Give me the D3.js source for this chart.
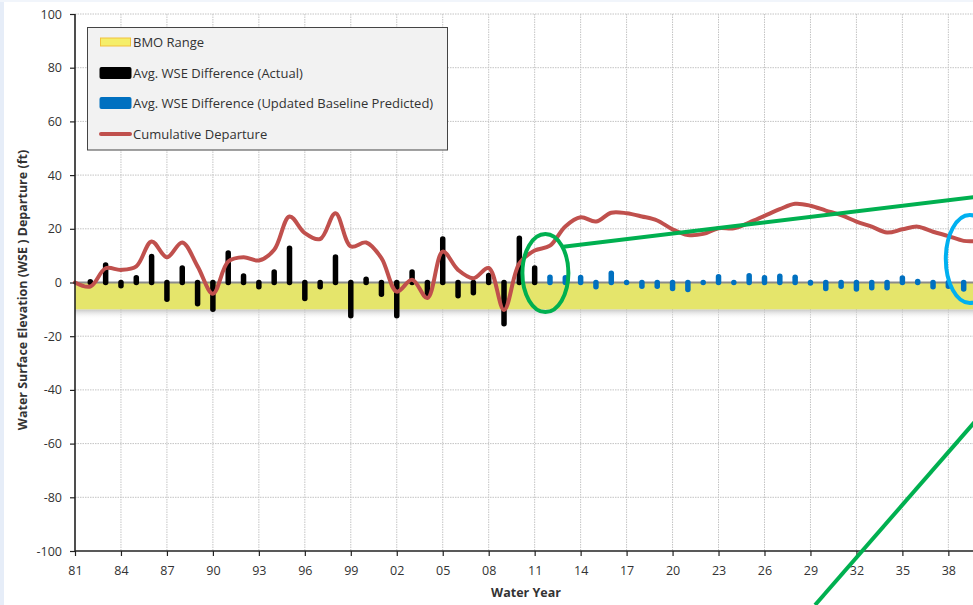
<!DOCTYPE html>
<html>
<head>
<meta charset="utf-8">
<script src="https://cdn.jsdelivr.net/npm/d3@7"></script>
<style>
  html, body { margin: 0; padding: 0; background: #ffffff; }
  svg { display: block; }
  text { font-family: "Open Sans", "Noto Sans", sans-serif; fill: #333; }
</style>
</head>
<body>
<svg id="chart" width="973" height="605"></svg>
<script>
// ---------------- DATA ----------------
const actualYears = d3.range(1982, 2012);
const actualValues = [0.3, 6.5, -1.2, 1.8, 9.7, -6.2, 5.4, -7.9, -10, 11,
  2.4, -1.6, 3.9, 12.8, -6, -1.6, 9.5, -12.4, 1.2, -4.4,
  -12.4, 3.9, -4.7, 16.2, -4.9, -3.8, 2.6, -15.4, 16.5, 5.4];

const predictedYears = d3.range(2012, 2040);
const predictedValues = [2.0, 1.8, 1.9, -1.6, 3.4, 0, -1.4, -1.4, -2.2, -2.6,
  0, 2.1, 0, 2.5, 1.8, 2.3, 2.0, -0.2, -2.2, -1.4,
  -2.4, -2.0, -2.0, 1.7, 0.4, -1.6, -1.4, -2.4];

const cumulativeYears = d3.range(1981, 2041);
const cumulativeValues = [0, -1.5, 5.3, 4.7, 6, 15.3, 9.4, 14.9, 6, -4.2,
  7.8, 9.4, 8.2, 12.2, 24.6, 18.4, 16.2, 25.8, 13.4, 14.9,
  9.1, -3.4, 1, -5.8, 11.5, 4.7, 1.6, 5.4, -10.2, 7.1,
  11.9, 13.7, 20.9, 24.3, 22.7, 26, 25.8, 24.6, 23.1, 19.8,
  17.7, 18.1, 20.2, 20.2, 22.3, 24.8, 27.3, 29.3, 28.6, 26.8,
  25.1, 22.7, 20.8, 18.6, 19.8, 20.8, 18.9, 17.3, 15.5, 15.5];

const bmoRange = [-10, 0];

const xTickYears = d3.range(1981, 2040, 3);
const xTickLabels = ["81","84","87","90","93","96","99","02","05","08",
  "11","14","17","20","23","26","29","32","35","38"];
const yTicks = d3.range(-100, 101, 20);

const legendLabels = ["BMO Range", "Avg. WSE Difference (Actual)",
  "Avg. WSE Difference (Updated Baseline Predicted)", "Cumulative Departure"];

// ---------------- SETUP ----------------
const svg = d3.select("#chart");
const W = 973, H = 605;
const mLeft = 75, mTop = 14, mBottom = 551, mRight = 979;

const x = d3.scaleLinear().domain([1981, 2040]).range([mLeft, mRight]);
const y = d3.scaleLinear().domain([-100, 100]).range([mBottom, mTop]);

// Page frame strip (screenshot look)
svg.append("rect").attr("x", 0).attr("y", 0).attr("width", W).attr("height", H).attr("fill", "#ffffff");
svg.append("rect").attr("x", 0).attr("y", 0).attr("width", 4).attr("height", H).attr("fill", "#e6edf8");
svg.append("rect").attr("x", 0).attr("y", 0).attr("width", W).attr("height", 2).attr("fill", "#f1f5fb");

const defs = svg.append("defs");
const grad = defs.append("linearGradient").attr("id", "shadow").attr("x1", 0).attr("x2", 0).attr("y1", 0).attr("y2", 1);
grad.append("stop").attr("offset", "0%").attr("stop-color", "#b8b8b8").attr("stop-opacity", 0.8);
grad.append("stop").attr("offset", "100%").attr("stop-color", "#ffffff").attr("stop-opacity", 0);

// Gridlines
const grid = svg.append("g");
grid.selectAll("line.v").data(xTickYears.slice(1)).join("line")
  .attr("x1", d => x(d)).attr("x2", d => x(d))
  .attr("y1", mTop).attr("y2", mBottom)
  .attr("stroke", "#c4c4c4").attr("stroke-width", 1).attr("stroke-dasharray", "1.5,1");
grid.selectAll("line.h").data(yTicks.filter(d => d !== -100 && d !== 0)).join("line")
  .attr("x1", mLeft).attr("x2", mRight)
  .attr("y1", d => y(d)).attr("y2", d => y(d))
  .attr("stroke", "#c4c4c4").attr("stroke-width", 1).attr("stroke-dasharray", "1.5,1");

// BMO band + shadow
svg.append("rect")
  .attr("x", mLeft).attr("width", mRight - mLeft)
  .attr("y", y(bmoRange[0])).attr("height", 10)
  .attr("fill", "url(#shadow)");
svg.append("rect")
  .attr("x", mLeft).attr("width", mRight - mLeft)
  .attr("y", y(bmoRange[1])).attr("height", y(bmoRange[0]) - y(bmoRange[1]))
  .attr("fill", "#e5e56b");

// Zero line
svg.append("line")
  .attr("x1", mLeft).attr("x2", mRight).attr("y1", y(0)).attr("y2", y(0))
  .attr("stroke", "#8a8a8a").attr("stroke-width", 2);

// Bars (rounded thin bars)
svg.append("g").selectAll("line").data(actualYears.map((d, i) => [d, actualValues[i]])).join("line")
  .attr("x1", d => x(d[0])).attr("x2", d => x(d[0]))
  .attr("y1", y(0)).attr("y2", d => y(d[1]))
  .attr("stroke", "#000000").attr("stroke-width", 5.5).attr("stroke-linecap", "round");
svg.append("g").selectAll("line").data(predictedYears.map((d, i) => [d, predictedValues[i]])).join("line")
  .attr("x1", d => x(d[0])).attr("x2", d => x(d[0]))
  .attr("y1", y(0)).attr("y2", d => y(d[1]))
  .attr("stroke", "#0070c0").attr("stroke-width", 5.5).attr("stroke-linecap", "round");

// Cumulative line
const lineGen = d3.line().x(d => x(d[0])).y(d => y(d[1])).curve(d3.curveCatmullRom.alpha(0.5));
svg.append("path")
  .datum(cumulativeYears.map((d, i) => [d, cumulativeValues[i]]))
  .attr("d", lineGen)
  .attr("fill", "none").attr("stroke", "#c0504d").attr("stroke-width", 4)
  .attr("stroke-linejoin", "round").attr("stroke-linecap", "round");

// Axes
const yAxis = svg.append("g").attr("transform", `translate(${mLeft},0)`)
  .call(d3.axisLeft(y).tickValues(yTicks).tickSize(5).tickPadding(8).tickFormat(d => String(d)));
yAxis.select(".domain").remove();
yAxis.selectAll(".tick line").attr("stroke", "#222").attr("stroke-width", 1.2);
yAxis.selectAll(".tick text").attr("font-size", 12.5).attr("fill", "#333")
  .style("font-family", "'Open Sans', sans-serif");

const xAxis = svg.append("g").attr("transform", `translate(0,${mBottom})`)
  .call(d3.axisBottom(x).tickValues(xTickYears).tickSize(5).tickPadding(10)
    .tickFormat((d, i) => xTickLabels[i]));
xAxis.select(".domain").remove();
xAxis.selectAll(".tick line").attr("stroke", "#222").attr("stroke-width", 1.2);
xAxis.selectAll(".tick text").attr("font-size", 12.5).attr("fill", "#333")
  .style("font-family", "'Open Sans', sans-serif");

svg.append("line").attr("x1", mLeft).attr("x2", mLeft).attr("y1", mTop).attr("y2", mBottom + 0.5)
  .attr("stroke", "#222").attr("stroke-width", 1.6);
svg.append("line").attr("x1", mLeft).attr("x2", mRight).attr("y1", mBottom).attr("y2", mBottom)
  .attr("stroke", "#222").attr("stroke-width", 1.6);

// Axis titles
svg.append("text").attr("x", 526).attr("y", 597).attr("text-anchor", "middle")
  .attr("font-size", 12.5).attr("font-weight", "bold").attr("fill", "#222").text("Water Year");
svg.append("text").attr("transform", "translate(27,290) rotate(-90)").attr("text-anchor", "middle")
  .attr("font-size", 12.5).attr("font-weight", "bold").attr("fill", "#222")
  .text("Water Surface Elevation (WSE ) Departure (ft)");

// Legend
const lg = svg.append("g");
lg.append("rect").attr("x", 87.5).attr("y", 27.5).attr("width", 360).attr("height", 122.5)
  .attr("fill", "#f2f2f2").attr("stroke", "#444").attr("stroke-width", 1);
const rowY = [42, 73, 103, 134];
lg.append("rect").attr("x", 100.5).attr("y", rowY[0] - 4).attr("width", 30).attr("height", 8)
  .attr("fill", "#f5ee6a").attr("stroke", "#f2c13c").attr("stroke-width", 1);
lg.append("rect").attr("x", 99.5).attr("y", rowY[1] - 6).attr("width", 32).attr("height", 12).attr("rx", 2)
  .attr("fill", "#000");
lg.append("rect").attr("x", 99.5).attr("y", rowY[2] - 6).attr("width", 32).attr("height", 12).attr("rx", 2)
  .attr("fill", "#0070c0");
lg.append("line").attr("x1", 101).attr("x2", 130).attr("y1", rowY[3]).attr("y2", rowY[3])
  .attr("stroke", "#c0504d").attr("stroke-width", 4).attr("stroke-linecap", "round");
lg.selectAll("text.leg").data(legendLabels).join("text")
  .attr("x", 133).attr("y", (d, i) => rowY[i] + 4.5)
  .attr("font-size", 13).attr("fill", "#222").text(d => d);

// Annotations (hand-drawn emphasis shapes)
const ann = svg.append("g").attr("fill", "none");
ann.append("ellipse").attr("cx", x(2011.7)).attr("cy", y(3.5)).attr("rx", 23).attr("ry", 39)
  .attr("stroke", "#00b050").attr("stroke-width", 4);
ann.append("line").attr("x1", x(2012.87)).attr("y1", y(13.3)).attr("x2", x(2040)).attr("y2", y(32.0))
  .attr("stroke", "#00b050").attr("stroke-width", 4);
ann.append("line").attr("x1", x(2040)).attr("y1", y(-50.1)).attr("x2", x(2029.3)).attr("y2", y(-120.1))
  .attr("stroke", "#00b050").attr("stroke-width", 4);
ann.append("ellipse").attr("cx", x(2039.4)).attr("cy", y(8.75)).attr("rx", 24).attr("ry", 44)
  .attr("stroke", "#00b0f0").attr("stroke-width", 4);
</script>
</body>
</html>
